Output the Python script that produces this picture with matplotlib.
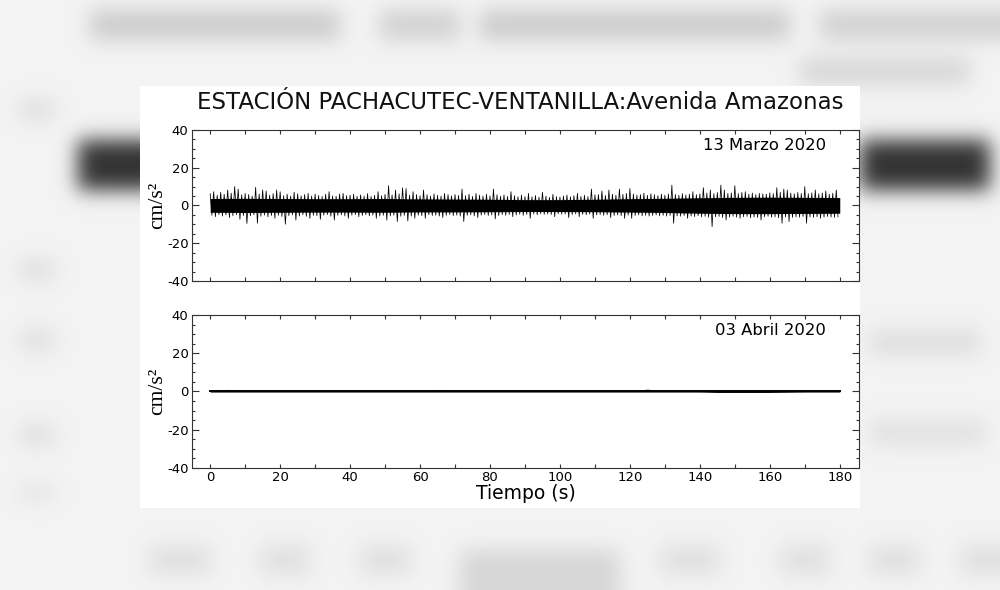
import numpy as np
import matplotlib
matplotlib.use("Agg")
import matplotlib.pyplot as plt
from matplotlib.patches import Rectangle
from matplotlib.ticker import MultipleLocator

plt.rcParams["axes.unicode_minus"] = False

# panel 1 (13 Marzo 2020): per-second max / min, cm/s2
hi1 = [6.2, 7.3, 5.4, 7.0, 5.9, 8.2, 6.5, 10.0, 8.7, 5.6,
       6.4, 5.8, 5.0, 9.6, 6.1, 8.2, 7.7, 5.5, 6.3, 8.2,
       7.3, 5.2, 6.0, 4.9, 7.0, 6.2, 5.1, 5.8, 6.4, 5.0,
       6.0, 5.3, 4.8, 5.9, 7.3, 5.1, 4.9, 6.1, 6.4, 5.2,
       5.5, 6.0, 4.9, 5.6, 5.0, 6.3, 4.8, 5.4, 7.3, 5.2,
       5.9, 10.5, 5.6, 8.2, 6.2, 9.4, 9.0, 5.5, 7.3, 5.8,
       5.2, 8.2, 5.7, 5.0, 6.1, 5.4, 5.0, 6.4, 5.8, 5.1,
       5.8, 5.3, 8.7, 5.2, 6.0, 4.8, 6.4, 5.5, 5.0, 6.0,
       5.1, 8.7, 5.7, 4.9, 5.6, 4.8, 7.3, 5.2, 4.6, 5.5,
       4.7, 6.4, 4.6, 5.3, 4.4, 7.0, 4.9, 4.3, 5.9, 4.7,
       4.5, 5.0, 5.5, 4.6, 5.2, 6.4, 4.8, 5.4, 4.7, 8.7,
       5.6, 5.8, 7.7, 5.3, 8.2, 6.0, 5.4, 8.7, 5.9, 6.4,
       9.0, 6.1, 5.5, 5.8, 6.5, 5.4, 6.2, 5.7, 5.2, 6.0,
       5.5, 6.1, 10.8, 5.8, 5.4, 6.3, 5.6, 6.0, 7.3, 5.8,
       6.2, 9.4, 6.6, 8.2, 6.3, 6.9, 10.8, 8.2, 6.4, 6.7,
       10.5, 6.3, 6.9, 7.3, 6.0, 6.6, 5.8, 6.4, 6.2, 6.0,
       6.7, 6.3, 9.4, 7.0, 8.7, 8.2, 6.6, 6.2, 6.9, 6.4,
       10.0, 6.3, 6.7, 8.2, 6.2, 6.6, 7.7, 6.0, 6.5, 8.2]
lo1 = [-5.2, -5.9, -4.8, -5.6, -5.0, -6.4, -5.4, -4.9, -7.3, -5.3,
       -9.5, -5.5, -4.9, -9.4, -5.7, -5.1, -6.0, -5.3, -6.8, -5.2,
       -5.8, -9.9, -5.4, -5.0, -7.7, -5.6, -4.9, -5.7, -6.8, -5.2,
       -5.4, -7.3, -5.1, -4.8, -5.7, -7.7, -5.2, -4.9, -5.5, -6.8,
       -5.1, -4.8, -5.9, -5.3, -4.9, -5.5, -5.1, -6.8, -5.6, -5.2,
       -7.7, -5.5, -5.1, -8.5, -5.7, -5.2, -8.2, -5.6, -6.8, -5.1,
       -5.4, -6.8, -4.9, -5.3, -5.1, -5.6, -6.4, -5.2, -4.8, -5.4,
       -5.1, -5.6, -8.5, -5.2, -4.9, -5.5, -6.4, -5.1, -4.8, -5.3,
       -5.0, -7.1, -5.3, -4.8, -5.2, -4.7, -5.9, -5.0, -4.6, -5.2,
       -4.7, -6.8, -4.5, -4.9, -4.4, -4.7, -4.5, -4.8, -5.9, -4.4,
       -4.6, -4.5, -6.4, -4.8, -4.4, -5.9, -4.7, -4.9, -4.5, -6.8,
       -5.0, -4.8, -5.2, -4.9, -6.4, -5.3, -5.0, -5.4, -6.8, -5.1,
       -6.8, -5.3, -5.0, -5.5, -5.2, -5.6, -5.3, -5.0, -5.5, -5.2,
       -5.6, -5.3, -9.4, -5.5, -5.7, -5.3, -6.8, -5.6, -5.9, -5.4,
       -6.0, -5.7, -6.2, -11.2, -6.0, -5.8, -6.4, -7.7, -6.1, -5.7,
       -6.2, -6.8, -6.0, -5.8, -6.5, -6.1, -6.3, -7.7, -6.0, -5.7,
       -6.2, -6.0, -6.5, -9.4, -6.1, -8.5, -6.3, -6.0, -6.2, -5.8,
       -9.4, -6.1, -6.3, -6.0, -6.8, -6.2, -5.8, -6.1, -6.3, -6.0]
# solid core of the trace, every 10 s
core_hi1 = [3.7, 3.8, 3.7, 3.6, 3.6, 3.7, 3.5, 3.4, 3.3, 3.1,
            3.1, 3.3, 3.6, 3.8, 4.1, 4.3, 4.4, 4.3, 4.2]
core_lo1 = [-3.6, -3.7, -3.6, -3.5, -3.5, -3.6, -3.4, -3.4, -3.3, -3.2,
            -3.2, -3.3, -3.5, -3.7, -4.1, -4.3, -4.3, -4.2, -4.1]

# panel 2 (03 Abril 2020): max / min every 5 s
hi2 = [0.3, 1.1, 0.3, 0.3, 0.3, 0.3, 0.3, 0.3, 0.3, 0.3, 0.3, 0.3, 0.3, 0.9,
       0.3, 0.3, 0.3, 0.3, 0.3, 0.3, 0.3, 0.3, 0.3, 0.3, 0.3, 1.2, 0.3, 0.3,
       0.3, 0.5, 0.5, 0.5, 0.5, 0.4, 0.3, 0.3, 0.3]
lo2 = [-0.3, -0.3, -0.3, -0.3, -0.3, -0.3, -0.3, -0.3, -0.3, -0.3, -0.3, -0.3,
       -0.3, -0.3, -0.3, -0.3, -0.3, -0.3, -0.3, -0.3, -0.3, -0.3, -0.3, -0.3,
       -0.3, -0.3, -0.3, -0.3, -0.3, -0.5, -0.5, -0.5, -0.5, -0.4, -0.3, -0.3, -0.3]

titulo = "ESTACIÓN PACHACUTEC-VENTANILLA:Avenida Amazonas"
fechas = ["13 Marzo 2020", "03 Abril 2020"]


def zigzag(t, hi, lo, step):
    x = np.empty(2 * len(t))
    y = np.empty(2 * len(t))
    x[0::2] = t
    x[1::2] = np.asarray(t) + step
    y[0::2] = hi
    y[1::2] = lo
    return x, y


def blur(a, s):
    k = np.exp(-0.5 * (np.arange(-3 * s, 3 * s + 1) / s) ** 2)
    k /= k.sum()
    a = np.pad(a, 3 * s, mode="edge")
    a = np.apply_along_axis(lambda r: np.convolve(r, k, mode="same"), 1, a)
    a = np.apply_along_axis(lambda r: np.convolve(r, k, mode="same"), 0, a)
    return a[3 * s:-3 * s, 3 * s:-3 * s]


fig = plt.figure(figsize=(10, 5.9), dpi=100)

# blurred photo-like backdrop
bg = np.full((590, 1000), 0.95)
for (x0, x1, y0, y1, v) in [(90, 340, 10, 40, 0.8), (380, 460, 10, 40, 0.82),
                            (480, 790, 10, 40, 0.8), (820, 1000, 10, 40, 0.82),
                            (800, 970, 58, 84, 0.84), (78, 300, 140, 190, 0.2),
                            (860, 990, 140, 190, 0.2), (20, 55, 100, 120, 0.87),
                            (20, 55, 260, 280, 0.87), (20, 55, 330, 350, 0.87),
                            (20, 55, 425, 445, 0.87), (20, 55, 485, 500, 0.89),
                            (870, 980, 330, 355, 0.87), (870, 985, 420, 445, 0.88),
                            (150, 210, 545, 575, 0.88), (260, 310, 545, 575, 0.88),
                            (360, 410, 545, 575, 0.88), (460, 620, 550, 590, 0.84),
                            (660, 720, 545, 575, 0.88), (780, 830, 545, 575, 0.88),
                            (870, 920, 545, 575, 0.88), (960, 1000, 545, 575, 0.88)]:
    bg[y0:y1, x0:x1] = v
bg = blur(bg, 10)
axbg = fig.add_axes([0, 0, 1, 1], zorder=-1)
axbg.imshow(bg, cmap="gray", vmin=0, vmax=1, extent=[0, 1000, 590, 0], aspect="auto")
axbg.add_patch(Rectangle((140, 86), 720, 422, facecolor="white", edgecolor="none"))
axbg.set_xlim(0, 1000)
axbg.set_ylim(590, 0)
axbg.axis("off")

fig.text(0.52, 0.826, titulo, ha="center", va="center", fontsize=16.5, color="#111111")

posiciones = [[0.192, 0.5237, 0.667, 0.256], [0.192, 0.2068, 0.667, 0.2593]]
t1 = np.arange(len(hi1))
t1c = np.arange(len(core_hi1)) * 10
t2 = np.arange(len(hi2)) * 5

for i in range(2):
    ax = fig.add_axes(posiciones[i])
    if i == 0:
        x, y = zigzag(t1, hi1, lo1, 0.5)
        ax.plot(x, y, color="black", lw=0.55)
        ax.fill_between(t1c, core_lo1, core_hi1, color="black", lw=0)
    else:
        ax.fill_between(t2, lo2, hi2, color="black", lw=0)
        ax.plot(t2, np.zeros(len(t2)), color="black", lw=1.4)
    ax.set_xlim(-5.2, 185.5)
    ax.set_ylim(-40, 40)
    ax.xaxis.set_major_locator(MultipleLocator(20))
    ax.xaxis.set_minor_locator(MultipleLocator(10))
    ax.yaxis.set_major_locator(MultipleLocator(20))
    ax.yaxis.set_minor_locator(MultipleLocator(5))
    ax.tick_params(which="both", direction="in", top=True, right=True,
                   labelsize=9.5, color="#333333", width=0.8)
    ax.tick_params(axis="y", which="major", length=5, pad=2.5)
    ax.tick_params(axis="y", which="minor", length=2.5)
    ax.tick_params(axis="x", which="major", length=3, pad=2.5)
    ax.tick_params(axis="x", which="minor", length=3)
    for s in ax.spines.values():
        s.set_linewidth(0.8)
        s.set_color("#333333")
    ax.set_ylabel("cm/s²", fontfamily="Liberation Serif", fontsize=15.5, labelpad=0)
    ax.text(0.95, 0.9, fechas[i], transform=ax.transAxes, ha="right", va="center",
            fontsize=11.8)
    if i == 0:
        ax.tick_params(axis="x", labelbottom=False)
    else:
        ax.set_xlabel("Tiempo (s)", fontsize=13.5, labelpad=0)

fig.savefig("out.png", dpi=100)
